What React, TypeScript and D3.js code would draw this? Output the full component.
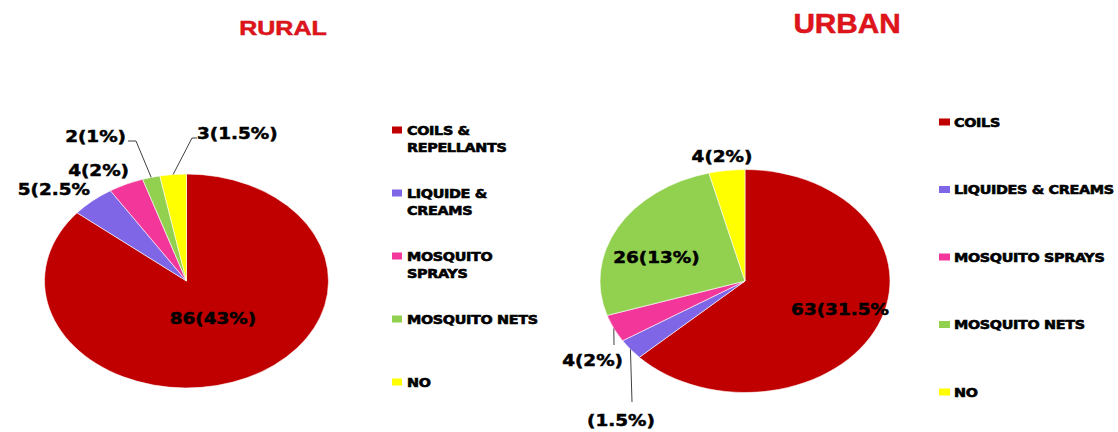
import React from "react";
import * as d3 from "d3";

// ---------- data ----------
const ruralCategories = ["COILS & REPELLANTS", "LIQUIDE & CREAMS", "MOSQUITO SPRAYS", "MOSQUITO NETS", "NO"];
const ruralLegendLines = [["COILS &", "REPELLANTS"], ["LIQUIDE &", "CREAMS"], ["MOSQUITO", "SPRAYS"], ["MOSQUITO NETS"], ["NO"]];
const ruralValues = [86, 5, 4, 2, 3];
const ruralLabels = ["86(43%)", "5(2.5%", "4(2%)", "2(1%)", "3(1.5%)"];

const urbanCategories = ["COILS", "LIQUIDES & CREAMS", "MOSQUITO SPRAYS", "MOSQUITO NETS", "NO"];
const urbanLegendLines = [["COILS"], ["LIQUIDES & CREAMS"], ["MOSQUITO SPRAYS"], ["MOSQUITO NETS"], ["NO"]];
const urbanValues = [63, 3, 4, 26, 4];
const urbanLabels = ["63(31.5%", "(1.5%)", "4(2%)", "26(13%)", "4(2%)"];

const colors = ["#C00000", "#7F66E6", "#F2369A", "#92D050", "#FFFF00"];

// ---------- layout ----------
const FONT = "'DejaVu Sans', Verdana, sans-serif";
const SX = 1.15;

type LabelPos = { x: number; y: number; anchor: "start" | "middle" | "end" };
type Leader = { index: number; pts: [number, number][] };

const ruralLayout = {
  cx: 186.5, cy: 281, rx: 142, ry: 107,
  labels: [
    { x: 213, y: 324, anchor: "middle" },
    { x: 90, y: 195, anchor: "end" },
    { x: 129, y: 176, anchor: "end" },
    { x: 126, y: 142, anchor: "end" },
    { x: 197, y: 139, anchor: "start" },
  ] as LabelPos[],
  leaders: [
    { index: 3, pts: [[136, 141], [128, 141]] },
    { index: 4, pts: [[192, 138], [197, 138]] },
  ] as Leader[],
  legend: { sqX: 392, sqW: 10, sqH: 7, textX: 407, y0: 130, step: 63, lineH: 17 },
  title: { text: "RURAL", x: 283, y: 35, size: 20, sx: 1.25 },
};

const urbanLayout = {
  cx: 745, cy: 281, rx: 145, ry: 111.5,
  labels: [
    { x: 840, y: 315, anchor: "middle" },
    { x: 621, y: 426, anchor: "middle" },
    { x: 623, y: 366, anchor: "end" },
    { x: 656.5, y: 263, anchor: "middle" },
    { x: 722, y: 162, anchor: "middle" },
  ] as LabelPos[],
  leaders: [
    { index: 1, pts: [[632, 402]] },
    { index: 2, pts: [[614, 345]] },
  ] as Leader[],
  legend: { sqX: 939, sqW: 11, sqH: 7, textX: 954, y0: 122, step: 67.5, lineH: 17 },
  title: { text: "URBAN", x: 847, y: 33, size: 27, sx: 1.1 },
};

function PieChart({ values, labels, legendLines, categories, layout }: any) {
  const pie = d3.pie<number>().sort(null).value((d) => d);
  const arcs = pie(values);
  const arc = d3.arc<d3.PieArcDatum<number>>().innerRadius(0).outerRadius(layout.ry);
  const k = layout.rx / layout.ry;
  const edge = (a: d3.PieArcDatum<number>): [number, number] => {
    const m = (a.startAngle + a.endAngle) / 2;
    return [layout.cx + layout.rx * Math.sin(m), layout.cy - layout.ry * Math.cos(m)];
  };
  const line = d3.line();
  const lg = layout.legend;
  return (
    <g>
      <text
        transform={`translate(${layout.title.x},${layout.title.y}) scale(${layout.title.sx},1)`}
        textAnchor="middle"
        fontFamily="'Liberation Sans', Arial, sans-serif"
        fontWeight="bold"
        fontSize={layout.title.size}
        fill="#E0141B"
        stroke="#D01018"
        strokeWidth={0.5}
      >
        {layout.title.text}
      </text>
      <g transform={`translate(${layout.cx},${layout.cy}) scale(${k},1)`}>
        {arcs.map((a, i) => (
          <path key={i} d={arc(a) || ""} fill={colors[i]} stroke="#ffffff" strokeWidth={0.6} vectorEffect="non-scaling-stroke" />
        ))}
      </g>
      {layout.leaders.map((l: Leader, i: number) => (
        <path key={i} d={line([edge(arcs[l.index]), ...l.pts]) || ""} fill="none" stroke="#404040" strokeWidth={1} />
      ))}
      {labels.map((t: string, i: number) => {
        const p = layout.labels[i];
        return (
          <text
            key={i}
            transform={`translate(${p.x},${p.y}) scale(${SX},1)`}
            textAnchor={p.anchor}
            fontFamily={FONT}
            fontWeight="bold"
            fontSize={16}
            fill="#000"
            stroke="#000"
            strokeWidth={0.5}
          >
            {t}
          </text>
        );
      })}
      {categories.map((c: string, i: number) => {
        const yc = lg.y0 + i * lg.step;
        return (
          <g key={c}>
            <rect x={lg.sqX} y={yc - lg.sqH / 2} width={lg.sqW} height={lg.sqH} fill={colors[i]} />
            {legendLines[i].map((ln: string, j: number) => (
              <text
                key={j}
                transform={`translate(${lg.textX},${yc + 4.5 + j * lg.lineH}) scale(1.15,1)`}
                fontFamily={FONT}
                fontWeight="bold"
                fontSize={12.5}
                letterSpacing={-0.3}
                fill="#000"
                stroke="#000"
                strokeWidth={0.6}
              >
                {ln}
              </text>
            ))}
          </g>
        );
      })}
    </g>
  );
}

export default function App() {
  return (
    <svg width={1118} height={432} style={{ position: "absolute", left: 0, top: 0, background: "#fff" }}>
      <rect width={1118} height={432} fill="#fff" />
      <PieChart values={ruralValues} labels={ruralLabels} legendLines={ruralLegendLines} categories={ruralCategories} layout={ruralLayout} />
      <PieChart values={urbanValues} labels={urbanLabels} legendLines={urbanLegendLines} categories={urbanCategories} layout={urbanLayout} />
    </svg>
  );
}
